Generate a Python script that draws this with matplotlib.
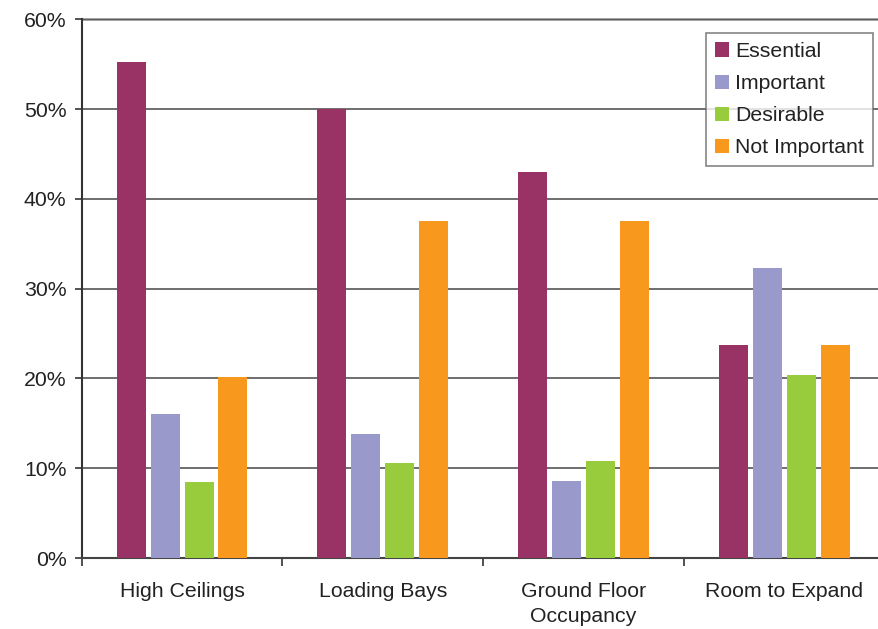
import matplotlib.pyplot as plt
import numpy as np

categories = ['High Ceilings', 'Loading Bays', 'Ground Floor\nOccupancy', 'Room to Expand']
series = ['Essential', 'Important', 'Desirable', 'Not Important']
essential = [55.2, 50.0, 43.0, 23.7]
important = [16.0, 13.8, 8.6, 32.3]
desirable = [8.5, 10.6, 10.8, 20.4]
not_important = [20.2, 37.5, 37.5, 23.7]
colors = ['#993366', '#9999CC', '#99CC3C', '#F8991D']

plt.rcParams['font.family'] = ['Liberation Sans', 'DejaVu Sans']
fs = 15.3

fig = plt.figure(figsize=(8.79, 6.29), dpi=100)
ax = fig.add_axes([81.7 / 879, 1 - 558 / 629, 802.8 / 879, (558 - 19.3) / 629])

x = np.arange(len(categories))
w = 0.1445
step = 0.169
data = [essential, important, desirable, not_important]
for i, (vals, name) in enumerate(zip(data, series)):
    ax.bar(x + (i - 1.5) * step, vals, w, color=colors[i], label=name, zorder=3)

ax.set_xlim(-0.5, 3.5)
ax.set_ylim(0, 60)
ax.set_yticks(range(0, 61, 10))
ax.set_yticklabels(['%d%%' % v for v in range(0, 61, 10)])
ax.yaxis.grid(True, color='#555555', linewidth=1.2, zorder=0)

# separators between categories, labels sit on minor ticks
ax.set_xticks(np.arange(-0.5, 3.6, 1), minor=False)
ax.set_xticklabels([])
ax.set_xticks(x, minor=True)
ax.set_xticklabels(categories, minor=True, linespacing=1.45)
ax.tick_params(axis='x', which='minor', length=0, pad=17, labelsize=fs, labelcolor='#222222')
ax.tick_params(axis='x', which='major', length=6, width=1.2, color='#333333')
ax.tick_params(axis='y', length=5, width=1.2, color='#333333', pad=6, labelsize=fs,
               labelcolor='#222222')

for s in ['top', 'right']:
    ax.spines[s].set_visible(False)
ax.spines['left'].set_color('#333333')
ax.spines['left'].set_linewidth(1.5)
ax.spines['bottom'].set_color('#444444')
ax.spines['bottom'].set_linewidth(1.5)
ax.axhline(60, color='#999999', linewidth=2, zorder=1, clip_on=False)

leg = ax.legend(loc='upper right', fontsize=fs, frameon=True, fancybox=False,
                handlelength=0.65, handleheight=0.65, handletextpad=0.3, labelspacing=0.62,
                borderpad=0.42, borderaxespad=0)
leg.set_bbox_to_anchor((873 / 879, 1 - 33 / 629), transform=fig.transFigure)
leg.get_frame().set_edgecolor('#666666')
leg.get_frame().set_linewidth(1.2)
for t in leg.get_texts():
    t.set_color('#222222')

fig.savefig('out.png', dpi=100)
